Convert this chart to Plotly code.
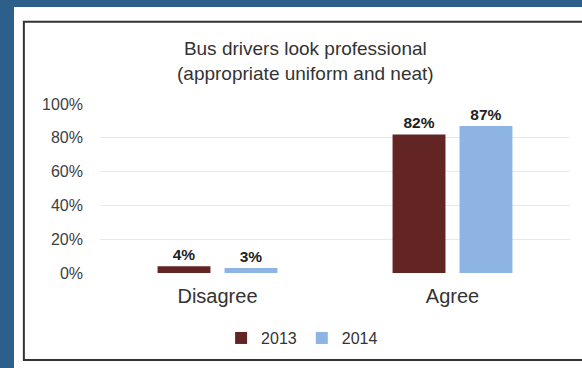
import plotly.graph_objects as go

# Survey results: share of respondents by answer and year
categories = ["Disagree", "Agree"]
years = ["2013", "2014"]
values_2013 = [4, 82]
values_2014 = [3, 87]
y_ticks = [0, 20, 40, 60, 80, 100]
y_tick_labels = ["0%", "20%", "40%", "60%", "80%", "100%"]

colors = {"2013": "#632523", "2014": "#8EB4E3"}
font_family = "Liberation Sans, Arial, sans-serif"

fig = go.Figure()
for year, vals in zip(years, [values_2013, values_2014]):
    fig.add_trace(go.Bar(
        name=year,
        x=categories,
        y=vals,
        marker=dict(color=colors[year], line=dict(width=0)),
        text=[f"{v}%" for v in vals],
        textposition="outside",
        cliponaxis=False,
        textfont=dict(family=font_family, size=15.5, color="#222222", weight="bold"),
    ))

# Panel geometry in paper coordinates (plot area spans 0..1)
shapes = [
    # white card behind the chart
    dict(type="rect", xref="paper", yref="paper", x0=-0.183, x1=1.2, y0=-0.7, y1=1.574,
         fillcolor="white", line=dict(width=0), layer="below"),
    # dark frame around the chart
    dict(type="rect", xref="paper", yref="paper", x0=-0.162, x1=1.06, y0=-0.515, y1=1.486,
         fillcolor="rgba(0,0,0,0)", line=dict(color="#333333", width=2), layer="below"),
]

fig.update_layout(
    width=582,
    height=368,
    margin=dict(l=100, r=12, t=104, b=95),
    paper_bgcolor="#2c608a",
    plot_bgcolor="white",
    barmode="group",
    bargap=0.43,
    bargroupgap=0.21,
    font=dict(family=font_family, color="#404040"),
    shapes=shapes,
    showlegend=True,
    legend=dict(
        orientation="h",
        x=0.43, xanchor="center",
        y=-0.385, yanchor="middle",
        font=dict(size=16, color="#333333"),
        bgcolor="rgba(0,0,0,0)",
        itemwidth=30,
        traceorder="normal",
    ),
    annotations=[dict(
        text="Bus drivers look professional<br>(appropriate uniform and neat)",
        xref="paper", yref="paper",
        x=0.438, y=1.254, xanchor="center", yanchor="middle",
        showarrow=False,
        font=dict(size=19, color="#333333", family=font_family),
    )],
)

fig.update_yaxes(
    range=[0, 100],
    tickvals=y_ticks,
    ticktext=y_tick_labels,
    showgrid=True,
    gridcolor="#e8e8e8",
    gridwidth=1,
    zeroline=False,
    showline=False,
    ticks="",
    ticklabelstandoff=16,
    tickfont=dict(size=16, color="#404040"),
)
fig.update_xaxes(
    showgrid=False,
    showline=False,
    ticks="",
    ticklabelstandoff=9,
    tickfont=dict(size=20, color="#333333"),
)

fig.write_html("out.html")
